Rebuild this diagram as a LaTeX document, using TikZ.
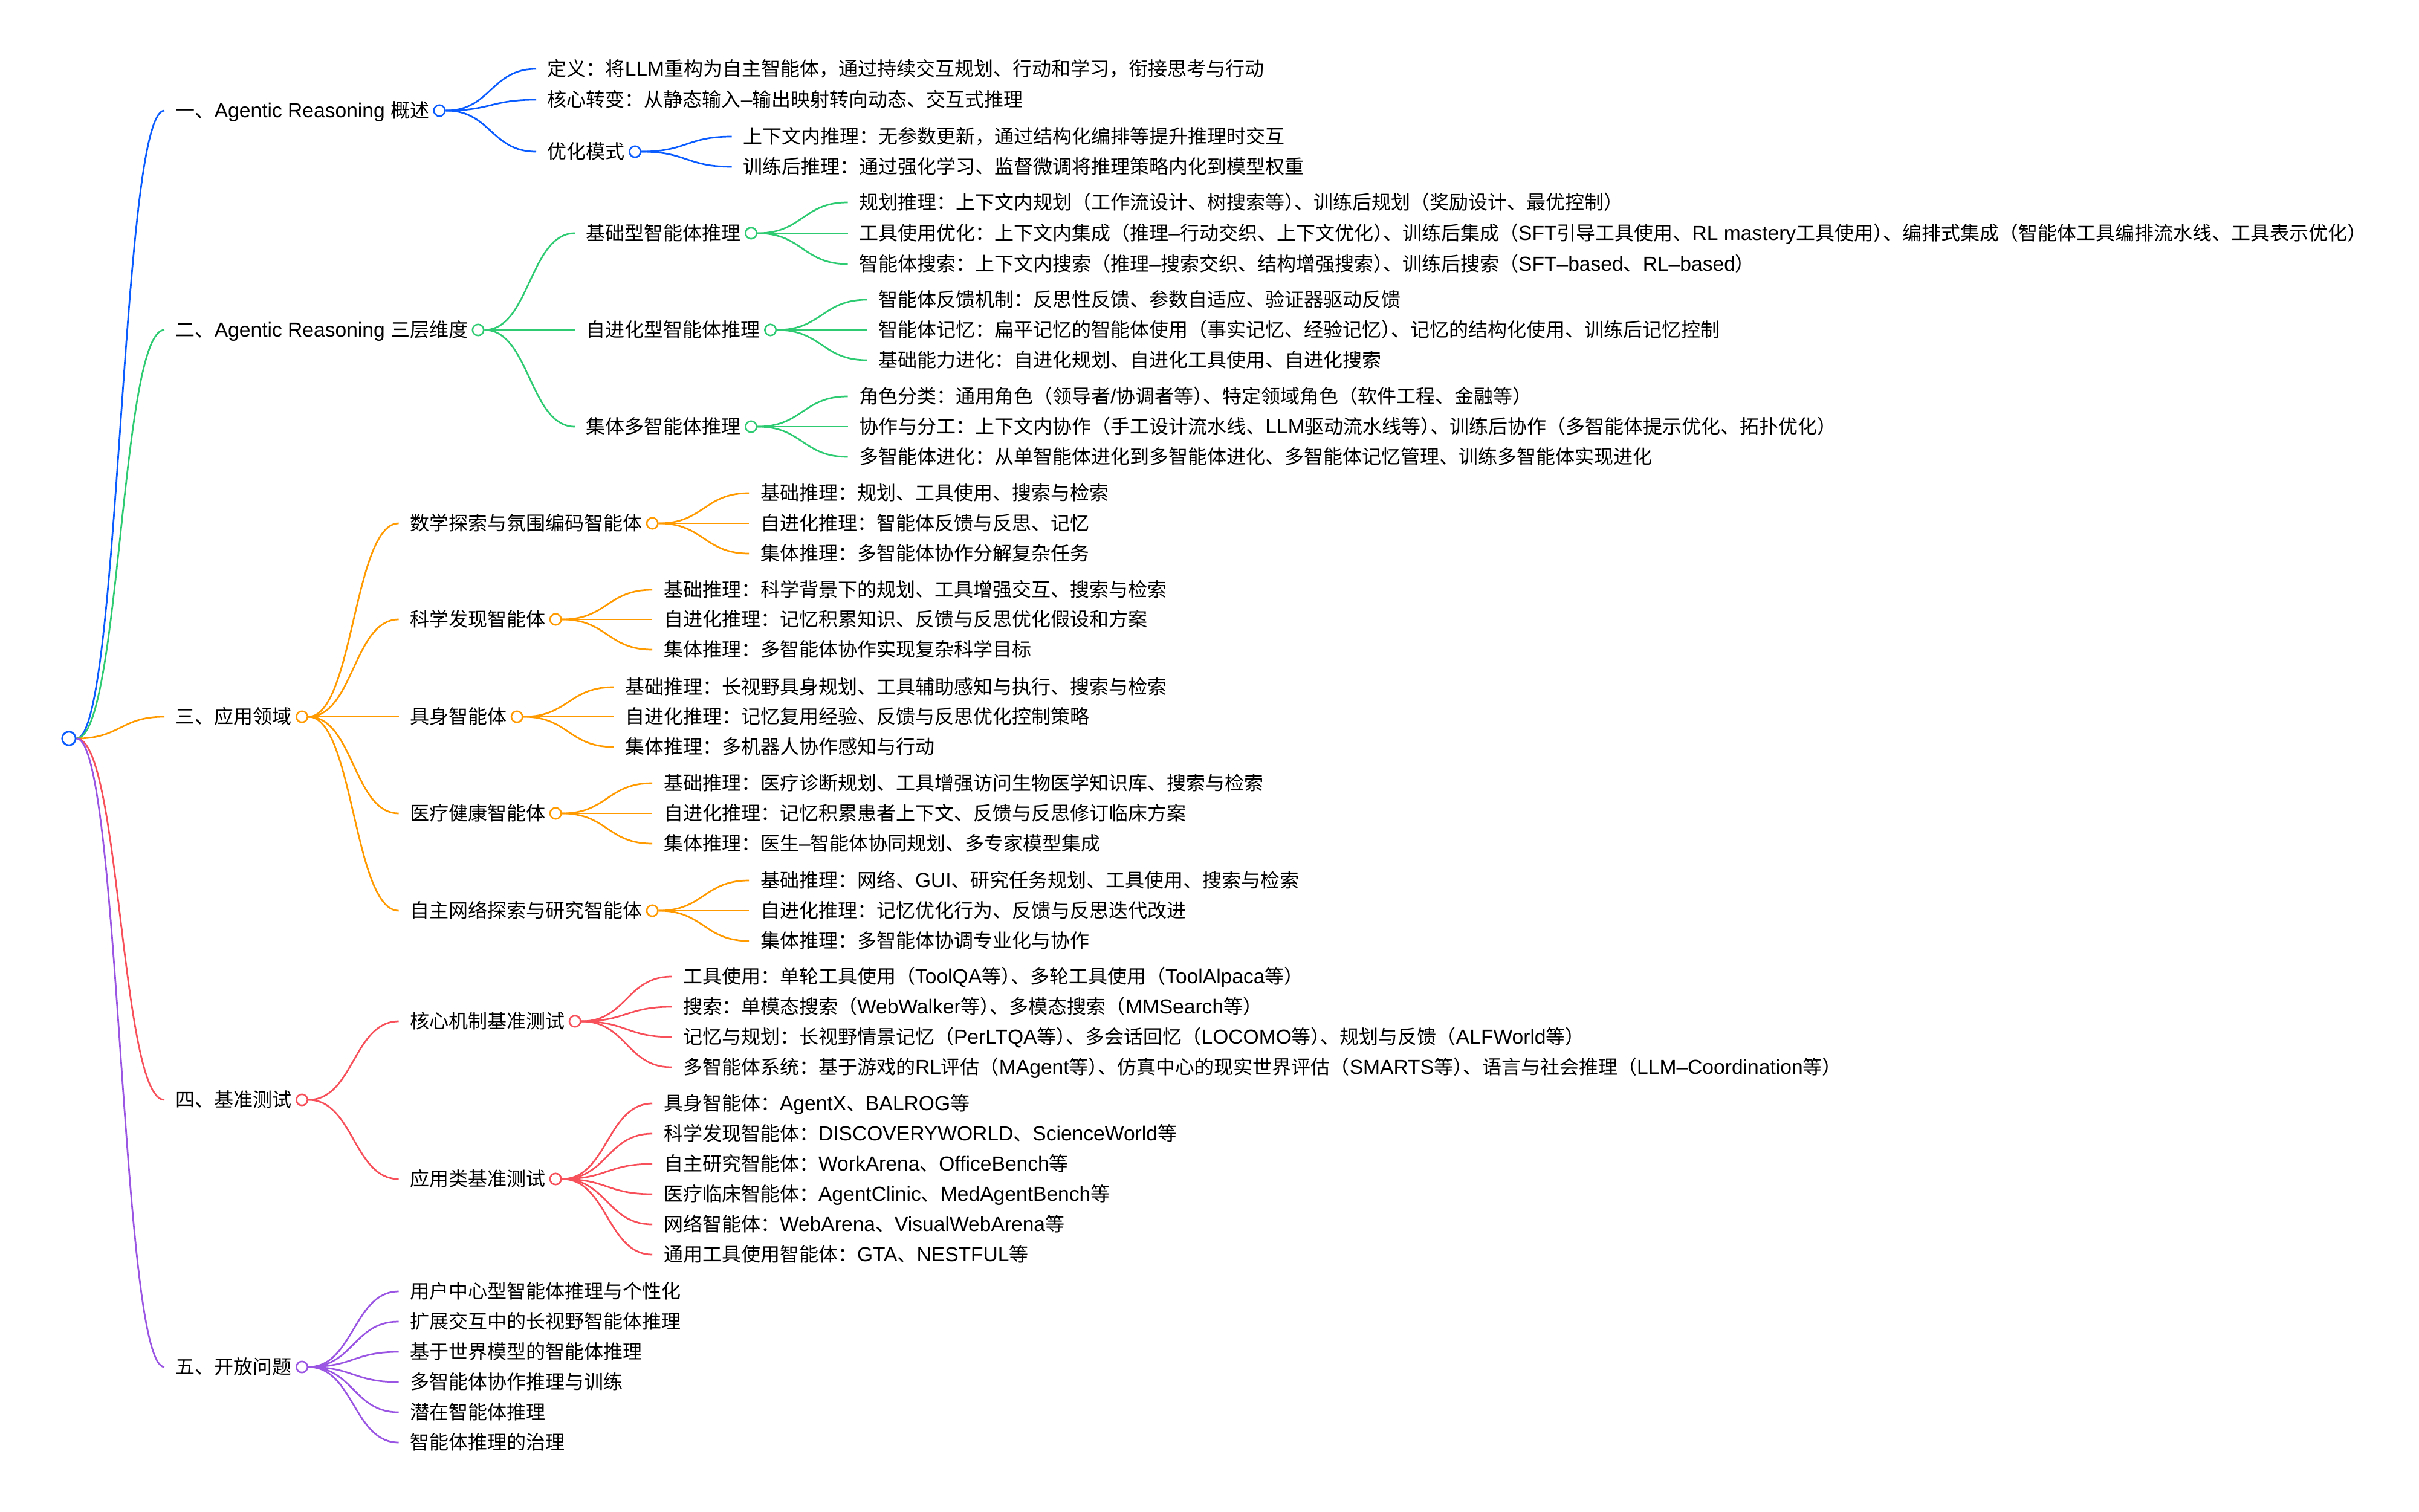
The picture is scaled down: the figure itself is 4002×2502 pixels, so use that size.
\documentclass[tikz,border=0pt]{standalone}
\usepackage{fontspec}
\setmainfont{Liberation Sans}[Scale=1.05]
\newfontfamily\latfont{Liberation Sans}[Scale=1.05]
\newfontfamily\cjkfont{Noto Sans CJK SC}
\XeTeXinterchartokenstate=1
\newXeTeXintercharclass\CJKcls
\newXeTeXintercharclass\Pcls
\newcount\cjkc
\cjkc="3000 \loop\XeTeXcharclass\cjkc=\CJKcls\relax\ifnum\cjkc<"303F \advance\cjkc by 1 \repeat
\cjkc="4E00 \loop\XeTeXcharclass\cjkc=\CJKcls\relax\ifnum\cjkc<"9FFF \advance\cjkc by 1 \repeat
\cjkc="FF00 \loop\XeTeXcharclass\cjkc=\CJKcls\relax\ifnum\cjkc<"FFEF \advance\cjkc by 1 \repeat
\XeTeXcharclass"3001=\Pcls
\XeTeXcharclass"3002=\Pcls
\XeTeXcharclass"FF08=\Pcls
\XeTeXcharclass"FF09=\Pcls
\XeTeXcharclass"FF0C=\Pcls
\XeTeXcharclass"FF1A=\Pcls
\XeTeXinterchartoks 0 \CJKcls = {\cjkfont}
\XeTeXinterchartoks 4095 \CJKcls = {\cjkfont}
\XeTeXinterchartoks \CJKcls 0 = {\latfont}
\XeTeXinterchartoks 4095 0 = {\latfont}
\XeTeXinterchartoks 0 \Pcls = {\cjkfont}
\XeTeXinterchartoks 4095 \Pcls = {\cjkfont}
\XeTeXinterchartoks \Pcls 0 = {\latfont}
\XeTeXinterchartoks \Pcls \Pcls = {\kern-0.5em}
\usetikzlibrary{calc,backgrounds}
\definecolor{cblue}{HTML}{0B5CFF}
\definecolor{cgreen}{HTML}{2FCB72}
\definecolor{corange}{HTML}{FF9A00}
\definecolor{cred}{HTML}{F8505A}
\definecolor{cpurple}{HTML}{9A55E2}
\newcommand\fs{\fontsize{8pt}{10pt}\selectfont}
\newcommand\hub[2]{\node[dot=#2] (#1o) at ([xshift=4pt]#1.east) {};\path (#1o.center) ++(178,0) coordinate (#1x);}
\newcommand\kid[4]{\node[txt] (#1) at (#2x |- 0,#3) {#4};}
\newcommand\lnk[3]{\draw[#1,lnkstyle] let \p1=(#2o.east), \p2=([xshift=-4.5pt]#3.west) in (\p1) .. controls ({(\x1+\x2)/2},\y1) and ({(\x1+\x2)/2},\y2) .. (\p2);}
\begin{document}
\begin{tikzpicture}[x=0.25pt,y=-0.25pt,
  lnkstyle/.style={line width=0.68pt},
  txt/.style={anchor=west, inner sep=0pt, font=\fs, text height=6.56pt, text depth=0.64pt, text=black},
  dot/.style={circle, draw=#1, fill=white, line width=0.65pt, minimum size=4.6pt, inner sep=0pt},
  rootdot/.style={circle, draw=cblue, fill=white, line width=0.7pt, minimum size=5.6pt, inner sep=0pt}]
\useasboundingbox (0,0) rectangle (4002,2502);
% root
\node[rootdot] (rto) at (114,1222) {};
\coordinate (rtx) at (290,0);
% level 1
\kid{A}{rt}{183}{一、Agentic Reasoning 概述}
\kid{B}{rt}{546}{二、Agentic Reasoning 三层维度}
\kid{C}{rt}{1186}{三、应用领域}
\kid{D}{rt}{1820}{四、基准测试}
\kid{E}{rt}{2262}{五、开放问题}
\hub{A}{cblue}\hub{B}{cgreen}\hub{C}{corange}\hub{D}{cred}\hub{E}{cpurple}
% section 1
\kid{A1}{A}{114}{定义：将LLM重构为自主智能体，通过持续交互规划、行动和学习，衔接思考与行动}
\kid{A2}{A}{165}{核心转变：从静态输入–输出映射转向动态、交互式推理}
\kid{A3}{A}{251}{优化模式}
\hub{A3}{cblue}
\kid{A31}{A3}{226}{上下文内推理：无参数更新，通过结构化编排等提升推理时交互}
\kid{A32}{A3}{276}{训练后推理：通过强化学习、监督微调将推理策略内化到模型权重}
% section 2
\kid{B1}{B}{386}{基础型智能体推理}
\kid{B2}{B}{546}{自进化型智能体推理}
\kid{B3}{B}{706}{集体多智能体推理}
\hub{B1}{cgreen}\hub{B2}{cgreen}\hub{B3}{cgreen}
\kid{B11}{B1}{335}{规划推理：上下文内规划（工作流设计、树搜索等）、训练后规划（奖励设计、最优控制）}
\kid{B12}{B1}{386}{工具使用优化：上下文内集成（推理–行动交织、上下文优化）、训练后集成（SFT引导工具使用、RL mastery工具使用）、编排式集成（智能体工具编排流水线、工具表示优化）}
\kid{B13}{B1}{437}{智能体搜索：上下文内搜索（推理–搜索交织、结构增强搜索）、训练后搜索（SFT–based、RL–based）}
\kid{B21}{B2}{496}{智能体反馈机制：反思性反馈、参数自适应、验证器驱动反馈}
\kid{B22}{B2}{546}{智能体记忆：扁平记忆的智能体使用（事实记忆、经验记忆）、记忆的结构化使用、训练后记忆控制}
\kid{B23}{B2}{596}{基础能力进化：自进化规划、自进化工具使用、自进化搜索}
\kid{B31}{B3}{656}{角色分类：通用角色（领导者/协调者等）、特定领域角色（软件工程、金融等）}
\kid{B32}{B3}{706}{协作与分工：上下文内协作（手工设计流水线、LLM驱动流水线等）、训练后协作（多智能体提示优化、拓扑优化）}
\kid{B33}{B3}{756}{多智能体进化：从单智能体进化到多智能体进化、多智能体记忆管理、训练多智能体实现进化}
% section 3
\kid{C1}{C}{866}{数学探索与氛围编码智能体}
\kid{C2}{C}{1025}{科学发现智能体}
\kid{C3}{C}{1186}{具身智能体}
\kid{C4}{C}{1346}{医疗健康智能体}
\kid{C5}{C}{1507}{自主网络探索与研究智能体}
\hub{C1}{corange}\hub{C2}{corange}\hub{C3}{corange}\hub{C4}{corange}\hub{C5}{corange}
\kid{C11}{C1}{816}{基础推理：规划、工具使用、搜索与检索}
\kid{C12}{C1}{866}{自进化推理：智能体反馈与反思、记忆}
\kid{C13}{C1}{916}{集体推理：多智能体协作分解复杂任务}
\kid{C21}{C2}{976}{基础推理：科学背景下的规划、工具增强交互、搜索与检索}
\kid{C22}{C2}{1025}{自进化推理：记忆积累知识、反馈与反思优化假设和方案}
\kid{C23}{C2}{1075}{集体推理：多智能体协作实现复杂科学目标}
\kid{C31}{C3}{1137}{基础推理：长视野具身规划、工具辅助感知与执行、搜索与检索}
\kid{C32}{C3}{1186}{自进化推理：记忆复用经验、反馈与反思优化控制策略}
\kid{C33}{C3}{1236}{集体推理：多机器人协作感知与行动}
\kid{C41}{C4}{1296}{基础推理：医疗诊断规划、工具增强访问生物医学知识库、搜索与检索}
\kid{C42}{C4}{1346}{自进化推理：记忆积累患者上下文、反馈与反思修订临床方案}
\kid{C43}{C4}{1396}{集体推理：医生–智能体协同规划、多专家模型集成}
\kid{C51}{C5}{1457}{基础推理：网络、GUI、研究任务规划、工具使用、搜索与检索}
\kid{C52}{C5}{1507}{自进化推理：记忆优化行为、反馈与反思迭代改进}
\kid{C53}{C5}{1557}{集体推理：多智能体协调专业化与协作}
% section 4
\kid{D1}{D}{1690}{核心机制基准测试}
\kid{D2}{D}{1951}{应用类基准测试}
\hub{D1}{cred}\hub{D2}{cred}
\kid{D11}{D1}{1616}{工具使用：单轮工具使用（ToolQA等）、多轮工具使用（ToolAlpaca等）}
\kid{D12}{D1}{1666}{搜索：单模态搜索（WebWalker等）、多模态搜索（MMSearch等）}
\kid{D13}{D1}{1716}{记忆与规划：长视野情景记忆（PerLTQA等）、多会话回忆（LOCOMO等）、规划与反馈（ALFWorld等）}
\kid{D14}{D1}{1766}{多智能体系统：基于游戏的RL评估（MAgent等）、仿真中心的现实世界评估（SMARTS等）、语言与社会推理（LLM–Coordination等）}
\kid{D21}{D2}{1826}{具身智能体：AgentX、BALROG等}
\kid{D22}{D2}{1876}{科学发现智能体：DISCOVERYWORLD、ScienceWorld等}
\kid{D23}{D2}{1926}{自主研究智能体：WorkArena、OfficeBench等}
\kid{D24}{D2}{1976}{医疗临床智能体：AgentClinic、MedAgentBench等}
\kid{D25}{D2}{2026}{网络智能体：WebArena、VisualWebArena等}
\kid{D26}{D2}{2076}{通用工具使用智能体：GTA、NESTFUL等}
% section 5
\kid{E1}{E}{2137}{用户中心型智能体推理与个性化}
\kid{E2}{E}{2187}{扩展交互中的长视野智能体推理}
\kid{E3}{E}{2237}{基于世界模型的智能体推理}
\kid{E4}{E}{2287}{多智能体协作推理与训练}
\kid{E5}{E}{2337}{潜在智能体推理}
\kid{E6}{E}{2387}{智能体推理的治理}
\begin{scope}[on background layer]
\fill[white] (0,0) rectangle (4002,2502);
\lnk{cblue}{rt}{A}\lnk{cgreen}{rt}{B}\lnk{corange}{rt}{C}\lnk{cred}{rt}{D}\lnk{cpurple}{rt}{E}
\lnk{cblue}{A}{A1}\lnk{cblue}{A}{A2}\lnk{cblue}{A}{A3}
\lnk{cblue}{A3}{A31}\lnk{cblue}{A3}{A32}
\lnk{cgreen}{B}{B1}\lnk{cgreen}{B}{B2}\lnk{cgreen}{B}{B3}
\lnk{cgreen}{B1}{B11}\lnk{cgreen}{B1}{B12}\lnk{cgreen}{B1}{B13}
\lnk{cgreen}{B2}{B21}\lnk{cgreen}{B2}{B22}\lnk{cgreen}{B2}{B23}
\lnk{cgreen}{B3}{B31}\lnk{cgreen}{B3}{B32}\lnk{cgreen}{B3}{B33}
\lnk{corange}{C}{C1}\lnk{corange}{C}{C2}\lnk{corange}{C}{C3}\lnk{corange}{C}{C4}\lnk{corange}{C}{C5}
\lnk{corange}{C1}{C11}\lnk{corange}{C1}{C12}\lnk{corange}{C1}{C13}
\lnk{corange}{C2}{C21}\lnk{corange}{C2}{C22}\lnk{corange}{C2}{C23}
\lnk{corange}{C3}{C31}\lnk{corange}{C3}{C32}\lnk{corange}{C3}{C33}
\lnk{corange}{C4}{C41}\lnk{corange}{C4}{C42}\lnk{corange}{C4}{C43}
\lnk{corange}{C5}{C51}\lnk{corange}{C5}{C52}\lnk{corange}{C5}{C53}
\lnk{cred}{D}{D1}\lnk{cred}{D}{D2}
\lnk{cred}{D1}{D11}\lnk{cred}{D1}{D12}\lnk{cred}{D1}{D13}\lnk{cred}{D1}{D14}
\lnk{cred}{D2}{D21}\lnk{cred}{D2}{D22}\lnk{cred}{D2}{D23}\lnk{cred}{D2}{D24}\lnk{cred}{D2}{D25}\lnk{cred}{D2}{D26}
\lnk{cpurple}{E}{E1}\lnk{cpurple}{E}{E2}\lnk{cpurple}{E}{E3}\lnk{cpurple}{E}{E4}\lnk{cpurple}{E}{E5}\lnk{cpurple}{E}{E6}
\end{scope}
\end{tikzpicture}
\end{document}
